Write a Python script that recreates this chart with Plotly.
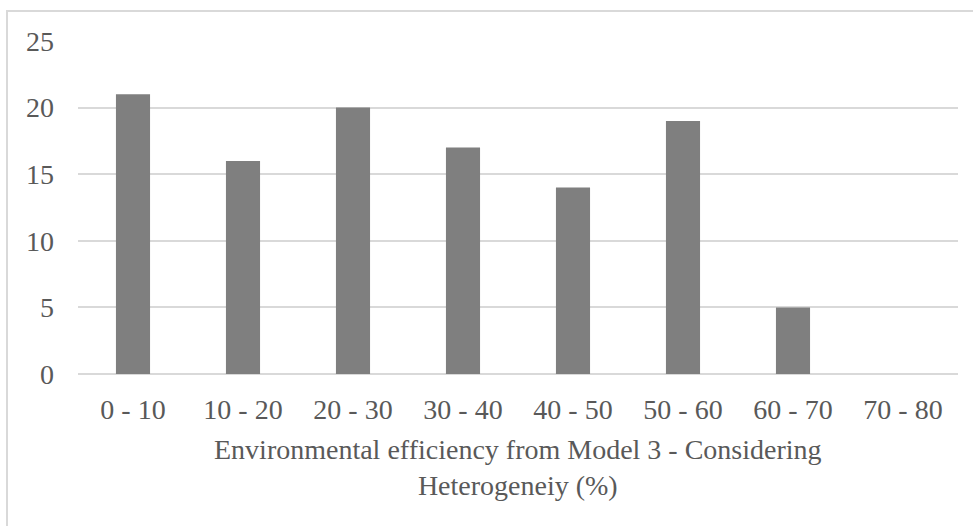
import plotly.graph_objects as go

categories = ["0 - 10", "10 - 20", "20 - 30", "30 - 40", "40 - 50", "50 - 60", "60 - 70", "70 - 80"]
counts = [21, 16, 20, 17, 14, 19, 5, 0]
y_ticks = [0, 5, 10, 15, 20, 25]
x_title = "Environmental efficiency from Model 3 - Considering<br>Heterogeneiy (%)"

FONT = "Liberation Serif, Times New Roman, serif"
TEXT = "#595959"
SIZE = 28

fig = go.Figure(
    go.Bar(x=categories, y=counts, marker=dict(color="#7f7f7f", line=dict(width=0)))
)

fig.update_layout(
    width=973,
    height=526,
    margin=dict(l=78, r=15, t=41, b=152),
    paper_bgcolor="white",
    plot_bgcolor="white",
    bargap=0.69,
    showlegend=False,
    font=dict(family=FONT, size=SIZE, color=TEXT),
)

fig.update_xaxes(
    type="category",
    showgrid=False,
    showline=False,
    zeroline=False,
    ticks="",
    ticklabelstandoff=16,
    tickfont=dict(family=FONT, size=SIZE, color=TEXT),
)

fig.update_yaxes(
    range=[0, 25],
    tickvals=y_ticks,
    showgrid=True,
    gridcolor="#d9d9d9",
    gridwidth=1.5,
    zeroline=True,
    zerolinecolor="#d9d9d9",
    zerolinewidth=1.5,
    showline=False,
    ticks="",
    ticklabelstandoff=23,
    tickfont=dict(family=FONT, size=SIZE, color=TEXT),
)

# axis title as a two-line centred annotation below the tick labels
fig.add_annotation(
    text=x_title,
    xref="paper", yref="paper",
    x=0.5, y=0,
    xanchor="center", yanchor="top",
    yshift=-58,
    showarrow=False,
    align="center",
    font=dict(family=FONT, size=SIZE, color=TEXT),
)

# chart frame (left and top edges)
fig.add_shape(
    type="path",
    xref="paper", yref="paper",
    path="M -0.0807,-1 L -0.0807,1.09 L 1.2,1.09",
    line=dict(color="#d9d9d9", width=2),
)

fig.write_html("out.html")
